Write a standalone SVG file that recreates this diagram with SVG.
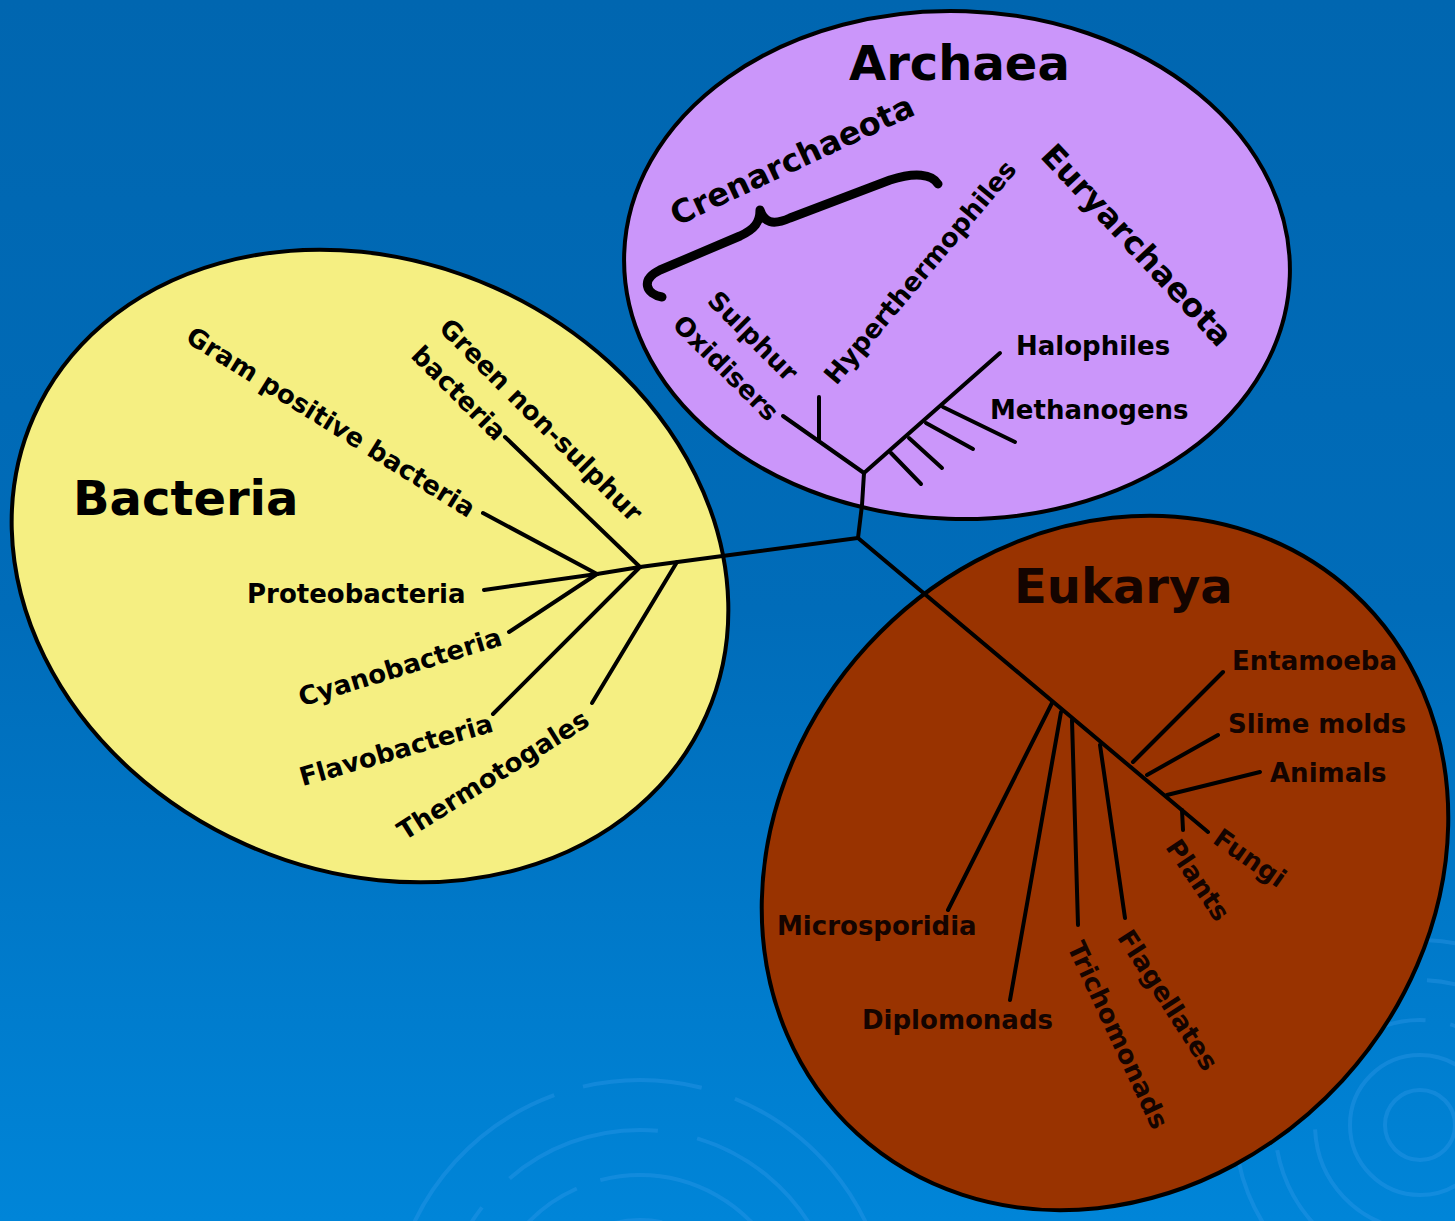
<svg xmlns="http://www.w3.org/2000/svg" width="1455" height="1221" viewBox="0 0 1455 1221">
  <defs>
    <linearGradient id="bg" x1="0" y1="0" x2="0" y2="1">
      <stop offset="0" stop-color="#0066b0"/>
      <stop offset="0.5" stop-color="#006cb9"/>
      <stop offset="1" stop-color="#0085d8"/>
    </linearGradient>
    <style>
      .dom { stroke: #000; stroke-width: 4; }
      .title { font-family: "DejaVu Sans", sans-serif; font-weight: bold; font-size: 48px; fill: #000; }
      .lbl { font-family: "DejaVu Sans", sans-serif; font-weight: bold; font-size: 26px; fill: #000; }
      .big { font-size: 32px; }
      .eu { fill: #140400; }
      .br { fill: none; stroke: #000; stroke-width: 4; stroke-linecap: round; }
      .rip { fill: none; stroke: #3aa0ee; stroke-opacity: 0.3; stroke-width: 4; }
    </style>
  </defs>

  <rect width="1455" height="1221" fill="url(#bg)"/>

  <g id="ripples">
    <circle class="rip" cx="640" cy="1330" r="110" stroke-dasharray="120 20"/>
    <circle class="rip" cx="640" cy="1330" r="155" stroke-dasharray="200 30 90 25"/>
    <circle class="rip" cx="640" cy="1330" r="200" stroke-dasharray="160 40"/>
    <circle class="rip" cx="640" cy="1330" r="250" stroke-dasharray="240 30 120 35"/>
    <circle class="rip" cx="1420" cy="1125" r="35"/>
    <circle class="rip" cx="1420" cy="1125" r="70"/>
    <circle class="rip" cx="1420" cy="1125" r="105" stroke-dasharray="150 25"/>
    <circle class="rip" cx="1420" cy="1125" r="145" stroke-dasharray="200 30"/>
    <circle class="rip" cx="1420" cy="1125" r="185" stroke-dasharray="180 40"/>
  </g>

  <g id="bacteria">
    <ellipse class="dom" cx="370" cy="566" rx="368" ry="305" fill="#f5ef82" transform="rotate(24 370 566)"/>
    <text class="title" x="73" y="515">Bacteria</text>
  </g>

  <g id="archaea">
    <ellipse class="dom" cx="957" cy="265" rx="333" ry="254" fill="#cb96fa" transform="rotate(2 957 265)"/>
    <text class="title" x="849" y="80">Archaea</text>
  </g>

  <g id="eukarya">
    <ellipse class="dom" cx="1105" cy="863" rx="367" ry="322" fill="#993300" transform="rotate(-47.5 1105 863)"/>
    <text class="title eu" x="1014" y="603">Eukarya</text>
  </g>

  <g id="connectors" class="br">
    <polyline points="640,567 730,555 858,538 862,505 864,473"/>
    <line x1="858" y1="538" x2="1208" y2="832"/>
    <line x1="864" y1="473" x2="783" y2="416"/>
    <line x1="819" y1="441" x2="819" y2="397"/>
    <line x1="864" y1="473" x2="1000" y2="353"/>
    <line x1="943" y1="407" x2="1015" y2="442"/>
    <line x1="926" y1="423" x2="973" y2="449"/>
    <line x1="909" y1="438" x2="942" y2="468"/>
    <line x1="891" y1="453" x2="921" y2="484"/>
    <line x1="640" y1="567" x2="597" y2="574"/>
    <line x1="597" y1="574" x2="484" y2="590"/>
    <line x1="597" y1="574" x2="483" y2="513"/>
    <line x1="597" y1="574" x2="509" y2="632"/>
    <line x1="640" y1="567" x2="505" y2="437"/>
    <line x1="640" y1="567" x2="493" y2="714"/>
    <line x1="677" y1="562" x2="592" y2="703"/>
    <line x1="1182" y1="810" x2="1183" y2="830"/>
    <line x1="1167" y1="795" x2="1260" y2="772"/>
    <line x1="1147" y1="775" x2="1218" y2="735"/>
    <line x1="1133" y1="762" x2="1223" y2="672"/>
    <line x1="1052" y1="703" x2="948" y2="910"/>
    <line x1="1061" y1="712" x2="1010" y2="1000"/>
    <line x1="1072" y1="720" x2="1078" y2="925"/>
    <line x1="1100" y1="745" x2="1125" y2="918"/>
  </g>

  <g id="crenarchaeota">
    <path d="M 662 297 C 646 294, 640 280, 660 270 L 740 236 C 755 229, 760 222, 760 210 C 764 222, 772 226, 790 218 L 890 180 C 915 172, 932 174, 938 184" fill="none" stroke="#000" stroke-width="9" stroke-linecap="round" stroke-linejoin="round"/>
    <text class="lbl big" text-anchor="middle" dy="0.35em" transform="translate(792,160) rotate(-25)">Crenarchaeota</text>
  </g>
  <g id="euryarchaeota"><text class="lbl big" text-anchor="middle" dy="0.35em" transform="translate(1137,245) rotate(47)">Euryarchaeota</text></g>
  <g id="hyperthermophiles"><text class="lbl" text-anchor="middle" dy="0.35em" transform="translate(920,272) rotate(-50)">Hyperthermophiles</text></g>
  <g id="sulphur-oxidisers">
    <text class="lbl" text-anchor="middle" dy="0.35em" transform="translate(753,336) rotate(45)">Sulphur</text>
    <text class="lbl" text-anchor="middle" dy="0.35em" transform="translate(726,368) rotate(45)">Oxidisers</text>
  </g>
  <g id="halophiles"><text class="lbl" x="1016" y="355">Halophiles</text></g>
  <g id="methanogens"><text class="lbl" x="990" y="419">Methanogens</text></g>

  <g id="gram-positive"><text class="lbl" text-anchor="middle" dy="0.35em" transform="translate(331,422) rotate(32)">Gram positive bacteria</text></g>
  <g id="green-non-sulphur">
    <text class="lbl" text-anchor="middle" dy="0.35em" transform="translate(541,420) rotate(45)">Green non-sulphur</text>
    <text class="lbl" text-anchor="middle" dy="0.35em" transform="translate(459,393) rotate(45)">bacteria</text>
  </g>
  <g id="proteobacteria"><text class="lbl" x="247" y="603">Proteobacteria</text></g>
  <g id="cyanobacteria"><text class="lbl" text-anchor="middle" dy="0.35em" transform="translate(400,667) rotate(-17)">Cyanobacteria</text></g>
  <g id="flavobacteria"><text class="lbl" text-anchor="middle" dy="0.35em" transform="translate(396,750) rotate(-16)">Flavobacteria</text></g>
  <g id="thermotogales"><text class="lbl" text-anchor="middle" dy="0.35em" transform="translate(493,775) rotate(-32)">Thermotogales</text></g>

  <g id="entamoeba"><text class="lbl eu" x="1232" y="670">Entamoeba</text></g>
  <g id="slime-molds"><text class="lbl eu" x="1228" y="733">Slime molds</text></g>
  <g id="animals"><text class="lbl eu" x="1270" y="782">Animals</text></g>
  <g id="fungi"><text class="lbl eu" text-anchor="middle" dy="0.35em" transform="translate(1250,858) rotate(35)">Fungi</text></g>
  <g id="plants"><text class="lbl eu" text-anchor="middle" dy="0.35em" transform="translate(1198,880) rotate(56)">Plants</text></g>
  <g id="microsporidia"><text class="lbl eu" x="777" y="935">Microsporidia</text></g>
  <g id="diplomonads"><text class="lbl eu" x="862" y="1029">Diplomonads</text></g>
  <g id="trichomonads"><text class="lbl eu" text-anchor="middle" dy="0.35em" transform="translate(1118,1035) rotate(65)">Trichomonads</text></g>
  <g id="flagellates"><text class="lbl eu" text-anchor="middle" dy="0.35em" transform="translate(1168,1000) rotate(57)">Flagellates</text></g>
</svg>
